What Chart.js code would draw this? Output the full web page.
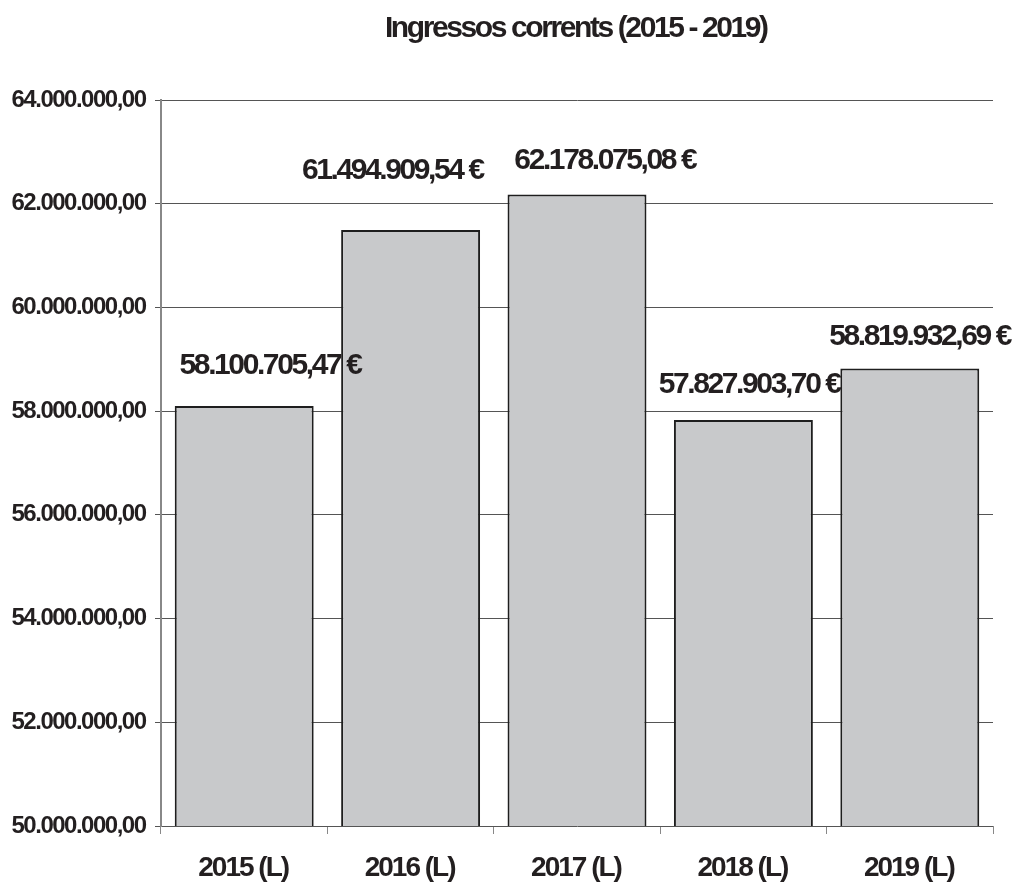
<!DOCTYPE html>
<html>
<head>
<meta charset="utf-8">
<script src="https://cdn.jsdelivr.net/npm/chart.js@4.4.1/dist/chart.umd.min.js"></script>
<style>
html,body{margin:0;padding:0;background:#fff;}
#wrap{width:1014px;height:887px;position:relative;}
</style>
</head>
<body>
<div id="wrap"><canvas id="c"></canvas></div>
<script>
// ---- data ----
const categories = ['2015 (L)', '2016 (L)', '2017 (L)', '2018 (L)', '2019 (L)'];
const ingressos = [58100705.47, 61494909.54, 62178075.08, 57827903.70, 58819932.69];
const valueLabels = ['58.100.705,47 €', '61.494.909,54 €', '62.178.075,08 €', '57.827.903,70 €', '58.819.932,69 €'];
const yTickValues = [50000000, 52000000, 54000000, 56000000, 58000000, 60000000, 62000000, 64000000];
const yTickLabels = ['50.000.000,00', '52.000.000,00', '54.000.000,00', '56.000.000,00', '58.000.000,00', '60.000.000,00', '62.000.000,00', '64.000.000,00'];
const titleText = 'Ingressos corrents (2015 - 2019)';

// ---- style (label nudges, px) ----
const labelDX = [27, -17, 29, 7, 11];
const labelDY = [-40, -59, -34, -35, -32];

const FONT = '"Liberation Sans", Arial, sans-serif';
const TXT = '#231f20';
// tight character spacing of the original, per font size (px)
const LS_BY_SIZE = { 24: -1.5, 28: -2.0, 30: -2.4 };

function lsFor(ctx) {
  const m = /(\d+(?:\.\d+)?)px/.exec(ctx.font);
  const s = m ? Math.round(parseFloat(m[1])) : 0;
  return LS_BY_SIZE[s] !== undefined ? LS_BY_SIZE[s] : 0;
}

const canvas = document.getElementById('c');
const ctx2d = canvas.getContext('2d');
const origFill = ctx2d.fillText.bind(ctx2d);
const origMeasure = ctx2d.measureText.bind(ctx2d);
ctx2d.fillText = function (text, x, y, maxWidth) {
  const ls = lsFor(this);
  this.letterSpacing = ls + 'px';
  // keep alignment on the glyphs (trailing spacing compensation)
  let dx = 0;
  if (this.textAlign === 'center') dx = ls / 2;
  else if (this.textAlign === 'right' || this.textAlign === 'end') dx = ls;
  origFill(text, x + dx, y);
};
ctx2d.measureText = function (text) {
  this.letterSpacing = lsFor(this) + 'px';
  return origMeasure(text);
};

const valuePlugin = {
  id: 'values',
  afterDatasetsDraw(chart) {
    const ctx = chart.ctx;
    const meta = chart.getDatasetMeta(0);
    ctx.save();
    ctx.font = 'bold 30px ' + FONT;
    ctx.fillStyle = TXT;
    ctx.textAlign = 'center';
    ctx.textBaseline = 'middle';
    meta.data.forEach((bar, i) => {
      ctx.fillText(valueLabels[i], bar.x + labelDX[i], bar.y + labelDY[i]);
    });
    ctx.restore();
  }
};

new Chart(canvas, {
  type: 'bar',
  data: {
    labels: categories,
    datasets: [{
      data: ingressos,
      backgroundColor: '#c8c9cb',
      borderColor: '#1e1e1e',
      borderWidth: 2,
      borderSkipped: false,
      barPercentage: 0.835,
      categoryPercentage: 1.0
    }]
  },
  options: {
    responsive: true,
    maintainAspectRatio: false,
    animation: false,
    devicePixelRatio: 1,
    layout: { padding: { left: 0, right: 21, top: 0, bottom: 0 } },
    plugins: {
      legend: { display: false },
      tooltip: { enabled: false },
      title: {
        display: true,
        text: titleText,
        fullSize: false,
        color: TXT,
        font: { family: FONT, size: 30, weight: 'bold' },
        padding: { top: 11, bottom: 53 }
      }
    },
    scales: {
      x: {
        offset: true,
        grid: { display: true, drawOnChartArea: false, drawTicks: true, tickLength: 8, color: '#888', offset: true },
        border: { display: false },
        ticks: { color: TXT, font: { family: FONT, size: 28, weight: 'bold' }, padding: 17, maxRotation: 0 },
        afterFit(scale) { scale.height = 61; }
      },
      y: {
        min: 50000000,
        max: 64000000,
        afterBuildTicks(scale) { scale.ticks = yTickValues.map(v => ({ value: v })); },
        grid: { color: '#555', lineWidth: 1, tickLength: 6, drawTicks: true },
        border: { display: true, color: '#888', width: 2 },
        ticks: {
          color: TXT,
          font: { family: FONT, size: 24, weight: 'bold' },
          padding: 8,
          callback(v) { const i = yTickValues.indexOf(v); return i >= 0 ? yTickLabels[i] : ''; }
        },
        afterFit(scale) { scale.width = 161; }
      }
    }
  },
  plugins: [valuePlugin]
});
</script>
</body>
</html>
